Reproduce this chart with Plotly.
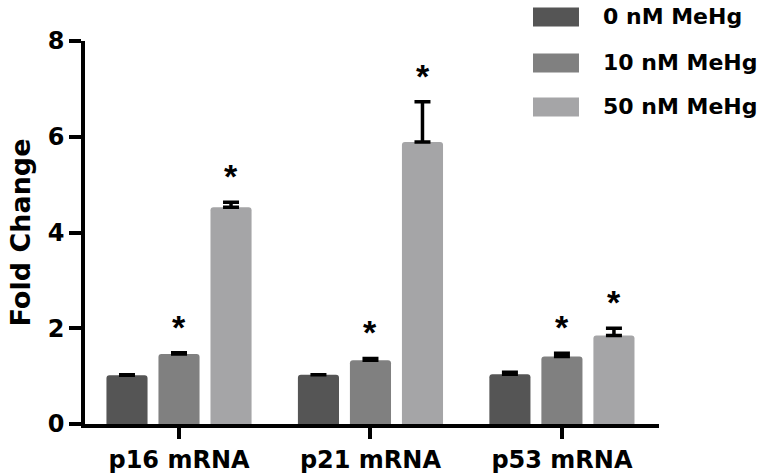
import plotly.graph_objects as go

categories = ["p16 mRNA", "p21 mRNA", "p53 mRNA"]
series_names = ["0 nM MeHg", "10 nM MeHg", "50 nM MeHg"]
means_0 = [1.02, 1.03, 1.04]
means_10 = [1.46, 1.33, 1.41]
means_50 = [4.53, 5.89, 1.85]
err_0 = [0.01, 0.0, 0.04]
err_10 = [0.03, 0.04, 0.07]
err_50 = [0.10, 0.84, 0.15]
signif_10 = [True, True, True]
signif_50 = [True, True, True]
colors = ["#555555", "#808080", "#a5a5a7"]
y_ticks = [0, 2, 4, 6, 8]

FONT = "DejaVu Sans"

fig = go.Figure()
all_means = [means_0, means_10, means_50]
all_errs = [err_0, err_10, err_50]
for name, m, e, c in zip(series_names, all_means, all_errs, colors):
    fig.add_trace(go.Bar(
        x=categories, y=m, name=name,
        marker=dict(color=c, line=dict(width=0), cornerradius=3),
        error_y=dict(type="data", array=e, arrayminus=[0]*len(e), symmetric=False,
                     color="black", thickness=3.5, width=8),
        showlegend=False,
    ))

# significance stars
annotations = []
for si, (sig, m, e) in enumerate([(signif_10, means_10, err_10), (signif_50, means_50, err_50)]):
    for ci, cat in enumerate(categories):
        if sig[ci]:
            annotations.append(dict(
                x=ci + (0.0 if si == 0 else 0.272), y=m[ci] + e[ci],
                xref="x", yref="y", text="*", showarrow=False,
                yanchor="bottom", yshift=5,
                font=dict(family="Liberation Sans", size=34, color="black", weight="bold"),
            ))

# manual legend
shapes = []
leg_y = [1.0627, 0.9426, 0.8277]
for name, c, yy in zip(series_names, colors, leg_y):
    shapes.append(dict(type="rect", xref="paper", yref="paper",
                       x0=0.7805, x1=0.8606, y0=yy - 0.0248, y1=yy + 0.0248,
                       fillcolor=c, line=dict(width=0), layer="above"))
    annotations.append(dict(xref="paper", yref="paper", x=0.899, y=yy,
                            xanchor="left", yanchor="middle", text=name,
                            showarrow=False,
                            font=dict(family=FONT, size=22, color="black", weight="bold")))

fig.update_layout(
    width=775, height=475,
    margin=dict(l=85, r=116, t=41, b=51, autoexpand=False),
    plot_bgcolor="white", paper_bgcolor="white",
    barmode="group", bargap=0.185, bargroupgap=0.21,
    annotations=annotations, shapes=shapes,
    font=dict(family=FONT, color="black"),
)
fig.update_xaxes(
    type="category", range=[-0.491, 2.507], automargin=False,
    showline=True, linecolor="black", linewidth=3.5,
    ticks="outside", ticklen=11, tickwidth=3.5, tickcolor="black",
    tickfont=dict(family=FONT, size=24, color="black", weight="bold"),
    showgrid=False, zeroline=False,
)
fig.update_yaxes(
    range=[0, 8], tickvals=y_ticks, automargin=False,
    showline=True, linecolor="black", linewidth=3.5,
    ticks="outside", ticklen=12, tickwidth=3.5, tickcolor="black",
    tickfont=dict(family=FONT, size=24, color="black", weight="bold"),
    title=dict(text="Fold Change", standoff=10,
               font=dict(family=FONT, size=27, color="black", weight="bold")),
    showgrid=False, zeroline=False,
)

fig.write_html("out.html",
               config={"displayModeBar": False},
               post_script="document.body.style.margin='0';document.body.style.overflow='hidden';")
